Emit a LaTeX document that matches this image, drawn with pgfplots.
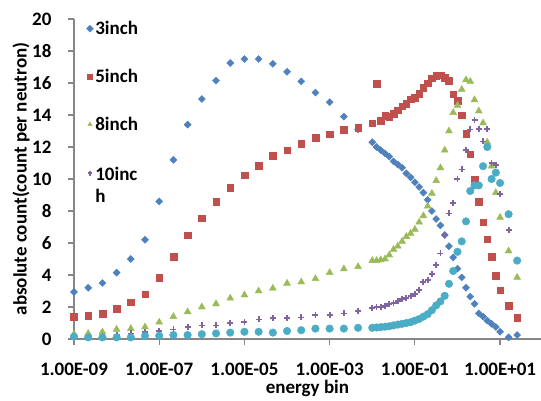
\documentclass[border=0pt]{standalone}
\usepackage{fontspec}
\setmainfont{Carlito}
\usepackage{pgfplots}
\usepackage{pgfplotstable}
\pgfplotsset{compat=1.18}
\definecolor{cB}{HTML}{4F81BD}
\definecolor{cR}{HTML}{C0504D}
\definecolor{cG}{HTML}{9BBB59}
\definecolor{cP}{HTML}{8064A2}
\definecolor{cC}{HTML}{4BACC6}
\definecolor{axgray}{HTML}{868686}
\newcommand{\lf}{\fontsize{19pt}{22pt}\selectfont\bfseries}

\pgfplotstableread{
E b r g p c
1e-9 2.94 1.4 0.3 0.12 0.15
2.154e-9 3.2 1.45 0.35 0.15 0.1
4.642e-9 3.5 1.6 0.44 0.2 0.1
1e-8 4.15 1.9 0.6 0.25 0.1
2.154e-8 5.0 2.3 0.65 0.35 0.1
4.642e-8 6.2 2.8 0.75 0.46 0.2
1e-7 8.6 3.85 1.05 0.5 0.2
2.154e-7 11.2 5.15 1.4 0.6 0.25
4.642e-7 13.4 6.5 1.7 0.73 0.25
1e-6 15.0 7.55 2.0 0.85 0.3
2.154e-6 16.15 8.6 2.2 0.85 0.35
4.642e-6 17.25 9.45 2.55 1.0 0.4
1e-5 17.5 10.25 2.75 1.04 0.45
2.154e-5 17.5 10.85 3.0 1.22 0.45
4.642e-5 17.2 11.45 3.17 1.33 0.4
1e-4 16.7 11.8 3.48 1.33 0.5
2.154e-4 16.1 12.2 3.56 1.35 0.55
4.642e-4 15.4 12.6 3.77 1.5 0.65
1e-3 14.8 12.8 4.15 1.5 0.65
2.154e-3 13.9 13.1 4.38 1.6 0.65
4.642e-3 13.1 13.2 4.52 1.75 0.7
0.01 12.3 13.5 4.9 1.92 0.7
0.01259 12.0 15.95 4.9 1.98 0.72
0.01585 11.8 13.65 4.95 2.02 0.74
0.01995 11.6 13.95 5.0 2.06 0.77
0.02512 11.4 13.9 5.25 2.17 0.8
0.03162 11.1 14.1 5.6 2.27 0.85
0.03981 10.9 14.3 5.8 2.37 0.9
0.05012 10.7 14.55 6.1 2.48 0.95
0.0631 10.35 14.7 6.4 2.54 1.0
0.07943 10.1 15.0 6.6 2.69 1.05
0.1 9.8 15.1 6.85 2.81 1.15
0.1259 9.5 15.35 7.3 3.06 1.25
0.1585 9.15 15.7 7.7 3.58 1.4
0.1995 8.7 16.0 8.3 3.7 1.55
0.2512 8.0 16.3 9.1 4.06 1.8
0.3162 7.5 16.45 9.9 4.63 2.1
0.3981 7.1 16.5 10.7 5.35 2.35
0.5012 6.5 16.35 11.8 6.5 2.7
0.631 5.8 16.15 13.0 7.85 3.45
0.7943 5.1 15.3 14.15 8.5 4.25
1 4.4 14.9 14.6 10.0 5.45
1.259 3.85 14.0 15.6 10.6 6.1
1.585 3.2 12.85 16.2 11.8 7.35
1.995 2.65 11.55 16.1 13.1 9.25
2.512 2.2 10.0 14.95 13.7 9.6
3.162 1.6 8.6 14.25 13.15 9.6
3.981 1.4 7.3 13.5 12.35 10.8
5.012 1.15 6.25 12.3 13.15 12.0
6.31 0.95 5.15 10.8 11.0 10.0
7.943 0.75 3.95 9.15 10.9 10.4
10 0.45 3.05 7.6 9.05 9.75
15.85 0.1 2.1 5.5 6.8 7.8
25.12 0.25 1.35 3.85 nan 4.9
}\data

\begin{document}
\begin{tikzpicture}
\begin{axis}[
  scale only axis, width=467pt, height=320pt,
  xmode=log, xmin=1e-9, xmax=91.2, ymin=0, ymax=20,
  axis lines*=left,
  axis line style={draw=axgray, line width=1.5pt},
  xtick={1e-9,1e-7,1e-5,1e-3,1e-1,10},
  xticklabels={1.00E-09,1.00E-07,1.00E-05,1.00E-03,1.00E-01,1.00E+01},
  xminorticks=false,
  ytick={0,2,...,20},
  tick align=outside, major tick length=6pt,
  tick style={draw=axgray, line width=1.2pt},
  ticklabel style={font=\lf},
  xticklabel style={yshift=-15pt},
  yticklabel style={xshift=-13pt},
  /pgf/number format/assume math mode=true,
  xlabel={energy bin}, ylabel={absolute count(count per neutron)},
  label style={font=\lf},
  xlabel style={at={(axis description cs:0.5,0)}, anchor=center, yshift=-49pt, inner sep=0pt},
  ylabel style={at={(axis description cs:-0.1135,0.5)}, anchor=center},
  legend style={at={(axis description cs:0.02,1.006)}, anchor=north west,
    draw=none, fill=none, font=\lf, row sep=29pt},
  legend cell align=left,
  legend image code/.code={\draw[#1,mark size=2.4pt] plot coordinates {(0.1cm,0cm)};},
]
\addplot[only marks, mark=square*, mark size=2.5pt, mark options={rotate=45, fill=cB, draw=cB}, cB] table[x=E,y=b]{\data};
\addlegendentry{3inch}
\addplot[only marks, mark=square*, mark size=3.3pt, mark options={fill=cR, draw=cR}, cR] table[x=E,y=r]{\data};
\addlegendentry{5inch}
\addplot[only marks, mark=triangle*, mark size=4pt, mark options={fill=cG, draw=cG}, cG] table[x=E,y=g]{\data};
\addlegendentry{8inch}
\addplot[only marks, mark=+, mark size=3pt, mark options={draw=cP, line width=1.8pt}, cP] table[x=E,y=p]{\data};
\addlegendentry{\begin{tabular}[t]{@{}l@{}}10inc\\h\end{tabular}}
\addplot[only marks, mark=*, mark size=3.8pt, mark options={fill=cC, draw=cC}, cC, forget plot] table[x=E,y=c]{\data};
\end{axis}
\pgfresetboundingbox
\path (-74pt,-61pt) rectangle (467pt,339pt);
\end{tikzpicture}
\end{document}
